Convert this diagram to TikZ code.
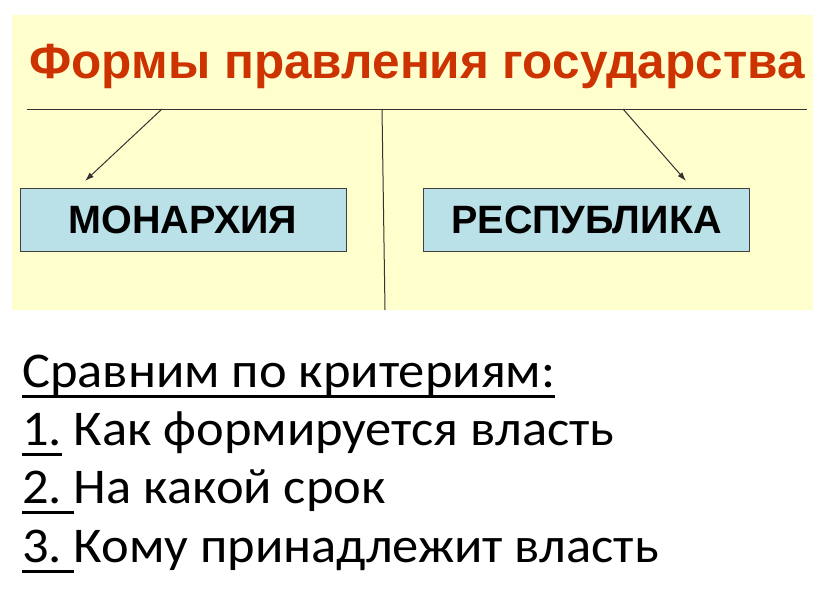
\documentclass[tikz,border=0pt]{standalone}
\usepackage{fontspec}
\setmainfont{Carlito}[FakeStretch=1.05]
\newfontfamily\headfont{Liberation Sans}
\usepackage{tikz}
\usetikzlibrary{arrows.meta,positioning,calc}
\definecolor{panelbg}{RGB}{255,255,206}
\definecolor{boxbg}{RGB}{186,224,232}
\definecolor{titlered}{RGB}{204,51,0}
\tikzstyle{formbox}=[draw=black!75, fill=boxbg, minimum width=326pt, minimum height=63pt, inner sep=0pt, font=\headfont\bfseries\fontsize{39.5}{42}\selectfont]
\tikzstyle{crit}=[anchor=base west, inner sep=0pt, font=\fontsize{50}{58}\selectfont]
\tikzstyle{link}=[draw=black!80, line width=1pt]
\newcommand{\undr}[1]{\setbox0\hbox{#1}\rlap{\rule[-11pt]{\wd0}{3pt}}\box0\relax}

\begin{document}
\begin{tikzpicture}[x=1pt, y=-1pt]
        \useasboundingbox (0,0) rectangle (816,613);
        % yellow panel
        \fill[panelbg] (12,15) rectangle (813,310);
        \node[anchor=base, inner sep=0pt, text=titlered, font=\headfont\bfseries\fontsize{49.5}{52}\selectfont] (title) at (417,78) {Формы правления государства};
        %
        \coordinate (lineL) at (27,109);
        \coordinate (lineR) at (807,109);
        \coordinate (lineM) at (382,109);
        \coordinate (lineB) at (385,310);
        \coordinate (fromL) at (162,109);
        \coordinate (fromR) at (623,109);
        \coordinate (toL) at (85,181);
        \coordinate (toR) at (686,181);
        \node[formbox] (monarchy) at (183,219.5) {МОНАРХИЯ};
        \node[formbox] (republic) at (586.5,219.5) {РЕСПУБЛИКА};
        \draw[link] (lineL) -- (lineR);
        \draw[link] (lineM) -- (lineB);
        \draw[link, -{Latex[length=9pt,width=6pt]}] (fromL) -- (toL);
        \draw[link, -{Latex[length=9pt,width=6pt]}] (fromR) -- (toR);
        %
        \node[crit] (head) at (22,387) {\undr{Сравним по критериям:}};
        \node[crit] (crit1) at (22,445) {\undr{1.} Как формируется власть};
        \node[crit] (crit2) at (22,503) {\undr{2.\ }На какой срок};
        \node[crit] (crit3) at (22,562) {\undr{3.\ }Кому принадлежит власть};
\end{tikzpicture}
\end{document}
